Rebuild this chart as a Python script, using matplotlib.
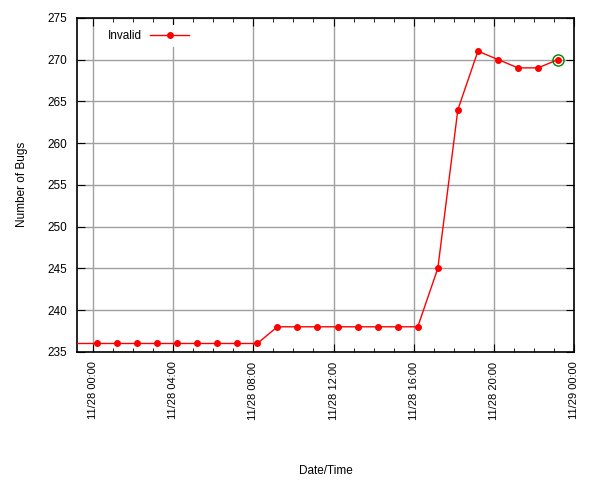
import numpy as np
import matplotlib
matplotlib.use("Agg")
import matplotlib.pyplot as plt
import matplotlib.dates as mdates
from datetime import datetime, timedelta

plt.rcParams["font.family"] = ["Liberation Sans", "DejaVu Sans"]

# ---------- data ----------
# one reading before the visible window, then hourly readings from 00:12
prev_time = datetime(2011, 11, 27, 22, 12)
prev_bugs = 236
first = datetime(2011, 11, 28, 0, 12)
bugs = [236, 236, 236, 236, 236, 236, 236, 236, 236,
        238, 238, 238, 238, 238, 238, 238, 238,
        245, 264, 271, 270, 269, 269, 270]
times = [prev_time] + [first + timedelta(hours=i) for i in range(len(bugs))]
values = [prev_bugs] + bugs

xmin = datetime(2011, 11, 27, 23, 12)
xmax = datetime(2011, 11, 29, 0, 0)

# ---------- plot ----------
fig = plt.figure(figsize=(6, 4.8), dpi=100)
ax = fig.add_axes([0.128, 0.267, 0.829, 0.696])

ax.plot(times, values, color="red", lw=1, marker="o", ms=4,
        label="Invalid", zorder=3)
ax.plot(times[-1], values[-1], "o", ms=8, mfc="none", mec="green",
        mew=1, zorder=4)

ax.set_xlim(xmin, xmax)
ax.set_ylim(235, 275)
ax.set_yticks(np.arange(235, 276, 5))

ax.xaxis.set_major_locator(mdates.HourLocator(byhour=range(0, 24, 4)))
ax.xaxis.set_minor_locator(mdates.HourLocator())
ax.xaxis.set_major_formatter(mdates.DateFormatter("%m/%d %H:%M"))
plt.setp(ax.get_xticklabels(), rotation=90)

ax.tick_params(which="both", direction="in", top=True, right=True,
               color="black", pad=7)
ax.tick_params(axis="y", labelsize=8.5)
ax.tick_params(axis="x", labelsize=8)
ax.tick_params(which="major", length=6)
ax.tick_params(which="minor", length=3)
ax.grid(True, which="major", color="#a0a0a0", lw=1)
for s in ax.spines.values():
    s.set_linewidth(1.2)

ax.set_xlabel("Date/Time", fontsize=8.5)
ax.xaxis.set_label_coords(0.5, -0.338)
ax.set_ylabel("Number of Bugs", fontsize=8.5, labelpad=14)

leg = ax.legend(loc="upper left", frameon=True, fontsize=8.5,
                markerfirst=False, handlelength=3.3, handletextpad=0.7,
                borderaxespad=0.3, bbox_to_anchor=(0.046, 0.988))
leg.get_frame().set_edgecolor("none")
leg.get_frame().set_facecolor("white")
leg.get_frame().set_alpha(1)
leg.set_zorder(5)

fig.savefig("out.png", dpi=100)
